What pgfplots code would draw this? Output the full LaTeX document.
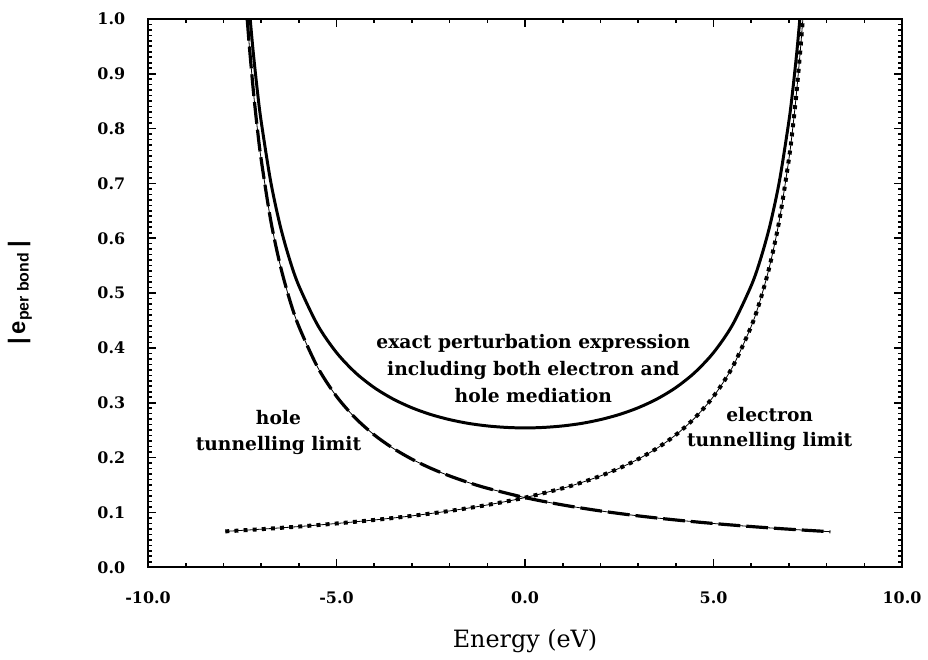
\documentclass[border=0pt]{standalone}
\usepackage{pgfplots}
\pgfplotsset{compat=1.18}
\usepackage{fontspec}
\setmainfont{DejaVu Serif}
\newfontfamily\labsans{Liberation Sans}

\begin{document}
\begin{tikzpicture}
\begin{axis}[
  scale only axis, width=379.5pt, height=276pt,
  xmin=-10, xmax=10, ymin=0, ymax=1,
  xtick={-10,-5,0,5,10},
  ytick={0,0.1,0.2,0.3,0.4,0.5,0.6,0.7,0.8,0.9,1.0},
  minor x tick num=4, minor y tick num=9,
  tick align=inside, major tick length=4pt, minor tick length=2pt,
  axis line style={line width=1pt},
  every tick/.style={black, line width=0.8pt},
  /pgf/number format/assume math mode=true,
  /pgf/number format/fixed, /pgf/number format/fixed zerofill, /pgf/number format/precision=1,
  tick label style={font=\bfseries\fontsize{8}{9}\selectfont},
  xticklabel shift=9pt, yticklabel shift=8pt,
  xlabel={Energy (eV)},
  xlabel style={at={(axis description cs:0.5,-0.134)}, anchor=center, font=\fontsize{12}{14}\selectfont},
  ylabel={{\labsans\bfseries |\,e\textsubscript{per bond}\,|}},
  ylabel style={at={(axis description cs:-0.17,0.5)}, anchor=center, font=\fontsize{12}{14}\selectfont},
]
% exact perturbation expression
\addplot[black, line width=1.5pt, smooth] table {
-7.29 1.0
-7.25 0.9691
-7.2 0.9330
-7.1 0.8690
-7 0.8138
-6.75 0.7049
-6.5 0.6244
-6.25 0.5625
-6 0.5135
-5.5 0.4415
-5 0.3914
-4.5 0.3549
-4 0.3276
-3.5 0.3068
-3 0.2908
-2.5 0.2785
-2 0.2692
-1.5 0.2623
-1 0.2577
-0.5 0.2550
0 0.2540
0.5 0.2550
1 0.2577
1.5 0.2623
2 0.2692
2.5 0.2785
3 0.2908
3.5 0.3068
4 0.3276
4.5 0.3549
5 0.3914
5.5 0.4415
6 0.5135
6.25 0.5625
6.5 0.6244
6.75 0.7049
7 0.8138
7.1 0.8690
7.2 0.9330
7.25 0.9691
7.29 1.0
};
% hole tunnelling limit
\addplot[black, line width=0.4pt, smooth, postaction={draw, line width=1.6pt, dash pattern=on 11pt off 3pt}] table {
-7.37 1.0
-7.3 0.9404
-7.2 0.8645
-7.1 0.8000
-7 0.7444
-6.75 0.6343
-6.5 0.5526
-6.25 0.4895
-6 0.4393
-5.5 0.3646
-5 0.3116
-4.5 0.2721
-4 0.2414
-3.5 0.2170
-3 0.1971
-2.5 0.1805
-2 0.1665
-1.5 0.1545
-1 0.1441
0 0.1270
1 0.1136
2 0.1027
3 0.0937
4 0.0862
5 0.0798
6 0.0742
7 0.0694
8.1 0.0648
};
% electron tunnelling limit
\addplot[black, line width=0.4pt, smooth, postaction={draw, line width=2pt, dash pattern=on 2pt off 2.6pt}] table {
-7.95 0.0654
-7 0.0694
-6 0.0742
-5 0.0798
-4 0.0862
-3 0.0937
-2 0.1027
-1 0.1136
0 0.1270
1 0.1441
1.5 0.1545
2 0.1665
2.5 0.1805
3 0.1971
3.5 0.2170
4 0.2414
4.5 0.2721
5 0.3116
5.5 0.3646
6 0.4393
6.25 0.4895
6.5 0.5526
6.75 0.6343
7 0.7444
7.1 0.8000
7.2 0.8645
7.3 0.9404
7.37 1.0
};
\node[align=center, font=\bfseries\fontsize{9.4}{13.5}\selectfont] at (axis cs:0.22,0.362) {exact perturbation expression\\including both electron and\\hole mediation};
\node[align=center, font=\bfseries\fontsize{9.4}{13}\selectfont] at (axis cs:-6.54,0.246) {hole\\tunnelling limit};
\node[align=center, font=\bfseries\fontsize{9.4}{13}\selectfont] at (axis cs:6.49,0.252) {electron\\tunnelling limit};
\end{axis}
\path (current axis.south west) ++(-74.5pt,-44pt) rectangle ([shift={(10pt,9.5pt)}]current axis.north east);
\end{tikzpicture}
\end{document}
